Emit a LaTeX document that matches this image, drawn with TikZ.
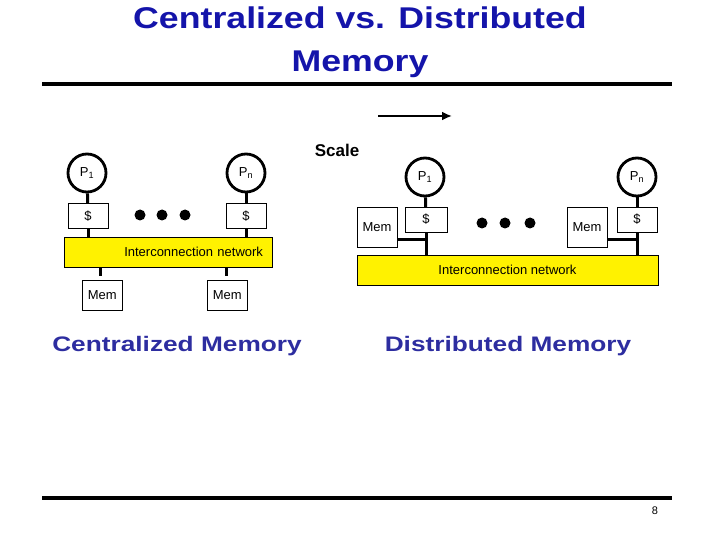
\documentclass[tikz,border=0pt]{standalone}
\usepackage{fontspec}
\setmainfont{Liberation Sans}
\usetikzlibrary{arrows.meta}
\definecolor{titleblue}{RGB}{20,20,170}
\definecolor{labblue}{RGB}{45,45,160}
\begin{document}
\begin{tikzpicture}[x=1pt,y=-1pt,
 proc/.style={circle,draw,line width=2.8pt,minimum size=38pt,inner sep=0pt,font=\fontsize{13}{13}\selectfont},
 box/.style={draw,thin,minimum width=40pt,minimum height=25pt,inner sep=0pt,font=\fontsize{13}{13}\selectfont},
 net/.style={draw,thin,fill=yellow,inner sep=0pt,font=\fontsize{13}{13}\selectfont},
 wire/.style={line width=3pt},
 dot/.style={circle,fill,inner sep=0pt,minimum size=11pt}]
\useasboundingbox (0,0) rectangle (720,540);
\node[font=\bfseries\fontsize{30}{43}\selectfont,text=titleblue,align=center] (title) at (360,42) {\scalebox{1.19}[1]{Centralized vs. Distributed}\\\scalebox{1.19}[1]{Memory}};
\draw[line width=4pt] (42,84) coordinate (r1) -- (672,84) coordinate (r2);
\draw[line width=4pt] (42,498) coordinate (r3) -- (672,498) coordinate (r4);
\coordinate (a1) at (378,116); \coordinate (a2) at (452,116);
\draw[line width=2.5pt,-{Latex[length=10pt,width=9pt]}] (a1) -- (a2);
\node[font=\bfseries\fontsize{17}{17}\selectfont] (scale) at (337,150) {Scale};
% centralized
\node[proc] (p1) at (87,173) {P\textsubscript{1}};
\node[proc] (pn) at (246,173) {P\textsubscript{n}};
\node[box] (c1) at (88,216) {\$};
\node[box] (cn) at (246,216) {\$};
\node[net,minimum width=208pt,minimum height=30pt,text width=190pt,align=right] (n1) at (168,252) {Interconnection network};
\node[box,minimum height=30pt,anchor=north west] (m1) at (82,280) {\raisebox{-6pt}{Mem}};
\node[box,minimum height=30pt,anchor=north west] (m2) at (207,280) {\raisebox{-6pt}{Mem}};
\draw[wire] (p1) -- (c1); \draw[wire] (c1) -- (c1|-n1.north);
\draw[wire] (pn) -- (cn); \draw[wire] (cn) -- (cn|-n1.north);
\draw[wire] (100,267) -- (100,276) coordinate (s1);
\draw[wire] (226,267) -- (226,276) coordinate (s2);
\node[dot] (d1) at (140,215) {}; \node[dot] (d2) at (162,215) {}; \node[dot] (d3) at (185,215) {};
% distributed
\node[proc] (q1) at (425,177) {P\textsubscript{1}};
\node[proc] (qn) at (637,177) {P\textsubscript{n}};
\node[box,minimum width=42pt] (e1) at (426,219.5) {\$};
\node[box] (en) at (637,219.5) {\$};
\node[box,minimum height=40pt] (k1) at (377,227) {Mem};
\node[box,minimum height=40pt] (k2) at (587,227) {Mem};
\node[net,minimum width=301pt,minimum height=30pt] (n2) at (507.5,270) {\raisebox{-6pt}{Interconnection network}};
\draw[wire] (q1) -- (e1); \draw[wire] (e1) -- (e1|-n2.north);
\draw[wire] (qn) -- (en); \draw[wire] (en) -- (en|-n2.north);
\draw[wire] (k1.east|-0,239) -- (e1.south|-0,239);
\draw[wire] (k2.east|-0,239) -- (en.south|-0,239);
\node[dot] (f1) at (482,223) {}; \node[dot] (f2) at (505,223) {}; \node[dot] (f3) at (530,223) {};
\node[font=\bfseries\fontsize{21}{21}\selectfont,text=labblue] (lc) at (177,346) {\scalebox{1.25}[1]{Centralized Memory}};
\node[font=\bfseries\fontsize{21}{21}\selectfont,text=labblue] (ld) at (508,346) {\scalebox{1.25}[1]{Distributed Memory}};
\node[font=\fontsize{11}{11}\selectfont] (pg) at (655,511) {8};
\end{tikzpicture}
\end{document}
